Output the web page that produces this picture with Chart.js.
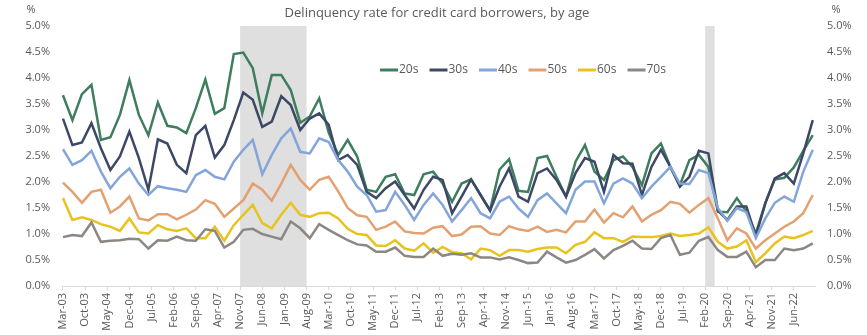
<!DOCTYPE html>
<html>
<head>
<meta charset="utf-8">
<script src="https://cdn.jsdelivr.net/npm/chart.js@4.4.0/dist/chart.umd.min.js"></script>
<style>
  html, body { margin: 0; padding: 0; background: #fff; }
  #wrap { width: 867px; height: 335px; }
</style>
</head>
<body>
<div id="wrap"><canvas id="chart" width="867" height="335"></canvas></div>
<script>
// Quarterly delinquency rates (%), Mar-03 .. Dec-22
const seriesNames = ['20s', '30s', '40s', '50s', '60s', '70s'];
const seriesColors = ['#3e7d5e', '#3c4866', '#83a5da', '#e3a171', '#e8c21e', '#8c8783'];

const rate20s = [
  3.67, 3.19, 3.69, 3.87, 2.81, 2.86, 3.29, 3.96, 3.29, 2.90, 3.53, 3.08, 3.05, 2.94,
  3.42, 3.97, 3.31, 3.42, 4.46, 4.49, 4.19, 3.32, 4.06, 4.06, 3.77, 3.14, 3.26, 3.61,
  2.95, 2.52, 2.81, 2.49, 1.85, 1.81, 2.10, 2.15, 1.78, 1.75, 2.15, 2.20, 1.97, 1.62,
  1.97, 2.05, 1.75, 1.46, 2.24, 2.44, 1.83, 1.81, 2.46, 2.50, 2.10, 1.72, 2.39,
  2.71, 2.20, 2.04, 2.42, 2.49, 2.29, 1.94, 2.55, 2.74, 2.29, 1.94, 2.42, 2.52, 2.29,
  1.43, 1.42, 1.69, 1.43, 1.01, 1.60, 2.05, 2.08, 2.28, 2.60, 2.90
];
const rate30s = [
  3.22, 2.71, 2.76, 3.13, 2.65, 2.23, 2.49, 2.97, 2.46, 1.85, 2.82, 2.74, 2.33, 2.17,
  2.90, 3.08, 2.47, 2.71, 3.19, 3.72, 3.58, 3.06, 3.16, 3.65, 3.48, 3.00, 3.22, 3.32,
  3.10, 2.42, 2.52, 2.33, 1.81, 1.69, 1.88, 2.01, 1.75, 1.49, 1.85, 2.10, 2.04, 1.40,
  1.72, 2.05, 1.75, 1.45, 1.91, 2.26, 1.72, 1.62, 2.17, 2.26, 2.04, 1.72, 2.17,
  2.46, 2.39, 1.81, 2.52, 2.36, 2.35, 1.75, 2.29, 2.62, 2.29, 1.91, 2.10, 2.60, 2.55,
  1.45, 1.27, 1.53, 1.53, 0.96, 1.59, 2.07, 2.17, 1.97, 2.55, 3.19
];
const rate40s = [
  2.63, 2.33, 2.42, 2.60, 2.20, 1.88, 2.10, 2.26, 1.97, 1.75, 1.92, 1.88, 1.85, 1.81,
  2.13, 2.23, 2.10, 2.05, 2.39, 2.62, 2.81, 2.15, 2.52, 2.84, 3.03, 2.58, 2.55, 2.84,
  2.77, 2.42, 2.20, 1.91, 1.75, 1.43, 1.46, 1.81, 1.56, 1.27, 1.56, 1.78, 1.56, 1.24,
  1.46, 1.69, 1.40, 1.30, 1.62, 1.72, 1.49, 1.33, 1.65, 1.78, 1.59, 1.40, 1.85,
  2.01, 2.01, 1.59, 1.97, 2.07, 1.97, 1.69, 1.91, 2.10, 2.29, 1.97, 1.96, 2.23, 2.17,
  1.50, 1.25, 1.50, 1.42, 0.92, 1.30, 1.60, 1.72, 1.62, 2.20, 2.62
];
const rate50s = [
  1.99, 1.81, 1.60, 1.81, 1.85, 1.41, 1.53, 1.72, 1.30, 1.26, 1.38, 1.38, 1.28, 1.37,
  1.47, 1.65, 1.58, 1.33, 1.49, 1.65, 1.97, 1.85, 1.64, 1.97, 2.33, 2.04, 1.85, 2.04,
  2.10, 1.82, 1.50, 1.36, 1.33, 1.08, 1.14, 1.24, 1.05, 1.02, 1.01, 1.12, 1.15, 0.96,
  0.99, 1.14, 1.15, 1.01, 0.98, 1.15, 1.09, 1.06, 1.14, 1.04, 1.08, 1.03, 1.24,
  1.24, 1.47, 1.22, 1.40, 1.32, 1.53, 1.24, 1.37, 1.46, 1.62, 1.58, 1.41, 1.56, 1.69,
  1.30, 0.88, 1.11, 1.01, 0.72, 0.88, 1.01, 1.14, 1.24, 1.40, 1.75
];
const rate60s = [
  1.69, 1.27, 1.32, 1.27, 1.19, 1.14, 1.06, 1.30, 1.03, 1.01, 1.17, 1.09, 1.06, 1.11,
  0.92, 0.92, 1.14, 0.87, 1.17, 1.37, 1.56, 1.21, 1.11, 1.37, 1.60, 1.37, 1.33, 1.40,
  1.41, 1.30, 1.10, 1.00, 0.98, 0.78, 0.77, 0.88, 0.72, 0.68, 0.82, 0.64, 0.75, 0.65,
  0.63, 0.51, 0.72, 0.69, 0.58, 0.69, 0.69, 0.66, 0.71, 0.74, 0.74, 0.63, 0.79,
  0.85, 1.03, 0.92, 0.92, 0.85, 0.95, 0.94, 0.94, 0.96, 1.01, 0.96, 0.98, 1.01, 1.13,
  0.85, 0.72, 0.76, 0.88, 0.46, 0.63, 0.82, 0.95, 0.92, 0.98, 1.06
];
const rate70s = [
  0.94, 0.98, 0.96, 1.22, 0.85, 0.87, 0.88, 0.91, 0.90, 0.72, 0.88, 0.87, 0.95, 0.88,
  0.87, 1.09, 1.06, 0.74, 0.85, 1.08, 1.10, 1.00, 0.95, 0.90, 1.24, 1.11, 0.92, 1.19,
  1.08, 0.98, 0.88, 0.80, 0.78, 0.66, 0.66, 0.74, 0.58, 0.56, 0.56, 0.72, 0.58, 0.62,
  0.60, 0.63, 0.55, 0.55, 0.51, 0.55, 0.50, 0.44, 0.45, 0.66, 0.55, 0.45, 0.50,
  0.60, 0.71, 0.53, 0.69, 0.77, 0.87, 0.72, 0.71, 0.92, 0.98, 0.60, 0.64, 0.87, 0.94,
  0.69, 0.56, 0.56, 0.66, 0.36, 0.50, 0.50, 0.72, 0.69, 0.72, 0.82
];
const allRates = [rate20s, rate30s, rate40s, rate50s, rate60s, rate70s];

// axis labels, one every 7 months
const tickLabels = [
  'Mar-03', 'Oct-03', 'May-04', 'Dec-04', 'Jul-05', 'Feb-06', 'Sep-06', 'Apr-07',
  'Nov-07', 'Jun-08', 'Jan-09', 'Aug-09', 'Mar-10', 'Oct-10', 'May-11', 'Dec-11',
  'Jul-12', 'Feb-13', 'Sep-13', 'Apr-14', 'Nov-14', 'Jun-15', 'Jan-16', 'Aug-16',
  'Mar-17', 'Oct-17', 'May-18', 'Dec-18', 'Jul-19', 'Feb-20', 'Sep-20', 'Apr-21',
  'Nov-21', 'Jun-22'
];
const yTicks = [0, 0.5, 1, 1.5, 2, 2.5, 3, 3.5, 4, 4.5, 5];

// shaded recession periods
const recessions = [['Nov-07', 'Aug-09'], ['Feb-20', 'May-20']];

const MONTHS = ['Jan','Feb','Mar','Apr','May','Jun','Jul','Aug','Sep','Oct','Nov','Dec'];
// months since Mar-03
function monthIndex(label) {
  const [m, y] = label.split('-');
  return (2000 + Number(y) - 2003) * 12 + MONTHS.indexOf(m) - 2;
}

const textColor = '#595959';
const fontFamily = '"Open Sans", "Noto Sans", sans-serif';

const shading = {
  id: 'shading',
  beforeDatasetsDraw(chart) {
    const { ctx, chartArea, scales } = chart;
    ctx.save();
    ctx.fillStyle = '#dfdfdf';
    recessions.forEach(([a, b]) => {
      const x1 = scales.x.getPixelForValue(monthIndex(a));
      const x2 = scales.x.getPixelForValue(monthIndex(b));
      ctx.fillRect(x1, chartArea.top, x2 - x1, chartArea.bottom - chartArea.top);
    });
    ctx.restore();
  }
};

const decorations = {
  id: 'decorations',
  afterDraw(chart) {
    const { ctx } = chart;
    ctx.save();
    ctx.fillStyle = textColor;
    ctx.textBaseline = 'middle';
    ctx.textAlign = 'center';
    ctx.font = '13px ' + fontFamily;
    ctx.fillText('Delinquency rate for credit card borrowers, by age', 437, 13);
    ctx.font = '11px ' + fontFamily;
    ctx.fillText('%', 31, 10);
    ctx.fillText('%', 836, 10);

    // legend inside the plot
    ctx.textAlign = 'left';
    ctx.font = '12px ' + fontFamily;
    seriesNames.forEach((name, i) => {
      const x = 380 + i * 49.5;
      ctx.strokeStyle = seriesColors[i];
      ctx.lineWidth = 3;
      ctx.beginPath();
      ctx.moveTo(x, 70);
      ctx.lineTo(x + 18, 70);
      ctx.stroke();
      ctx.fillText(name, x + 19, 70);
    });
    ctx.restore();
  }
};

const pct = v => Number(v).toFixed(1) + '%';

function yAxis(position, width) {
  return {
    type: 'linear',
    position,
    min: 0,
    max: 5,
    afterBuildTicks: axis => { axis.ticks = yTicks.map(v => ({ value: v })); },
    afterFit: s => { s.width = width; },
    grid: { display: false, drawTicks: false },
    border: { display: false },
    ticks: { callback: pct, padding: 12, color: textColor, font: { size: 11, family: fontFamily } }
  };
}

new Chart(document.getElementById('chart'), {
  type: 'line',
  data: {
    datasets: seriesNames.map((name, i) => ({
      label: name,
      data: allRates[i].map((v, q) => ({ x: q * 3, y: v })),
      borderColor: seriesColors[i],
      borderWidth: 2.5,
      pointRadius: 0,
      tension: 0,
      fill: false,
      yAxisID: 'y',
      order: seriesNames.length - i
    }))
  },
  options: {
    responsive: false,
    animation: false,
    devicePixelRatio: 1,
    layout: { padding: { top: 26, left: 0, right: 0, bottom: 0 } },
    plugins: { legend: { display: false }, tooltip: { enabled: false } },
    scales: {
      x: {
        type: 'linear',
        min: -0.3,
        max: 237.7,
        afterBuildTicks: axis => { axis.ticks = tickLabels.map((_, i) => ({ value: i * 7 })); },
        afterFit: s => { s.height = 49; },
        grid: { display: true, drawOnChartArea: false, drawTicks: true, tickLength: 4, color: '#d9d9d9' },
        border: { display: true, color: '#d9d9d9' },
        ticks: {
          autoSkip: false,
          minRotation: 90,
          maxRotation: 90,
          padding: 3,
          color: textColor,
          font: { size: 11, family: fontFamily },
          callback: v => tickLabels[Math.round(v / 7)]
        }
      },
      y: yAxis('left', 62),
      y2: yAxis('right', 52)
    }
  },
  plugins: [shading, decorations]
});
</script>
</body>
</html>
